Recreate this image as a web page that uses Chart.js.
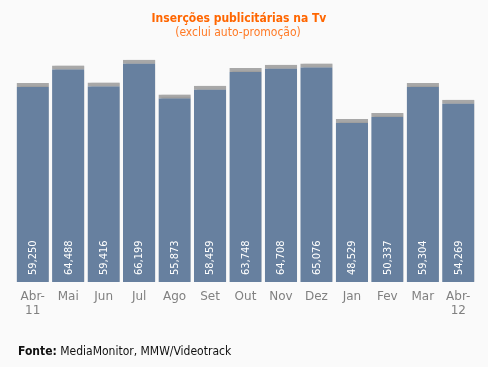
<!DOCTYPE html>
<html><head><meta charset="utf-8">
<script src="https://cdn.jsdelivr.net/npm/chart.js@4"></script>
<style>html,body{margin:0;padding:0;background:#fafafa;}#wrap{width:488px;height:367px;position:relative;}</style>
</head><body><div id="wrap"><canvas id="c" width="488" height="367"></canvas></div>
<script>
const categories = [["Abr-","11"],"Mai","Jun","Jul","Ago","Set","Out","Nov","Dez","Jan","Fev","Mar",["Abr-","12"]];
const values = [59250,64488,59416,66199,55873,58459,63748,64708,65076,48529,50337,59304,54269];
const valueLabels = ["59,250","64,488","59,416","66,199","55,873","58,459","63,748","64,708","65,076","48,529","50,337","59,304","54,269"];
const titleText = "Inserções publicitárias na Tv";
const subtitleText = "(exclui auto-promoção)";
const sourceLabel = "Fonte:";
const sourceText = " MediaMonitor, MMW/Videotrack";

const FONT = '"DejaVu Sans Condensed", "DejaVu Sans", sans-serif';

const shadowPlugin = {
  id: 'shadow',
  beforeDatasetsDraw(chart) {
    const ctx = chart.ctx;
    ctx.save();
    ctx.shadowColor = 'rgba(0,0,0,0.18)';
    ctx.shadowOffsetX = 3;
    ctx.shadowOffsetY = 0;
    ctx.shadowBlur = 2;
  },
  afterDatasetsDraw(chart) {
    chart.ctx.restore();
  }
};

const labelsPlugin = {
  id: 'texts',
  afterDraw(chart) {
    const ctx = chart.ctx;
    const meta = chart.getDatasetMeta(0);
    ctx.save();
    ctx.fillStyle = '#ffffff';
    ctx.font = '11px ' + FONT;
    ctx.textAlign = 'left';
    ctx.textBaseline = 'middle';
    meta.data.forEach((bar, i) => {
      const p = bar.getProps(['x', 'base'], true);
      ctx.save();
      ctx.setTransform(0, -1, 1, 0, p.x + 0.5, p.base - 7);
      ctx.fillText(valueLabels[i], 0, 0);
      ctx.restore();
    });
    ctx.restore();

    ctx.save();
    ctx.textAlign = 'center';
    ctx.textBaseline = 'middle';
    ctx.fillStyle = '#ff6600';
    ctx.font = 'bold 12px ' + FONT;
    ctx.fillText(titleText, 239, 19);
    ctx.fillStyle = '#ff7a26';
    ctx.font = '12px ' + FONT;
    ctx.fillText(subtitleText, 238, 33);
    ctx.textAlign = 'left';
    ctx.fillStyle = '#111111';
    ctx.font = 'bold 12px ' + FONT;
    ctx.fillText(sourceLabel, 18, 352);
    const w = ctx.measureText(sourceLabel).width;
    ctx.font = '12px ' + FONT;
    ctx.fillText(sourceText, 18 + w, 352);
    ctx.restore();
  }
};

new Chart(document.getElementById('c'), {
  type: 'bar',
  data: {
    labels: categories,
    datasets: [{
      data: values,
      backgroundColor: '#67809f',
      borderColor: '#a8a8a8',
      borderWidth: {top: 4, left: 0, right: 0, bottom: 0},
      borderSkipped: 'start',
      barPercentage: 0.91,
      categoryPercentage: 1.0
    }]
  },
  options: {
    responsive: false,
    animation: false,
    events: [],
    layout: {padding: {left: 15, right: 12, top: 47, bottom: 41}},
    plugins: {legend: {display: false}, tooltip: {enabled: false}, title: {display: false}},
    scales: {
      x: {
        grid: {display: false, drawTicks: false},
        border: {display: false},
        ticks: {color: '#808080', font: {family: 'DejaVu Sans', size: 12, lineHeight: '14px'}, padding: 8, maxRotation: 0, autoSkip: false}
      },
      y: {display: false, min: 0, max: 70000}
    }
  },
  plugins: [shadowPlugin, labelsPlugin]
});
</script>
</body></html>
